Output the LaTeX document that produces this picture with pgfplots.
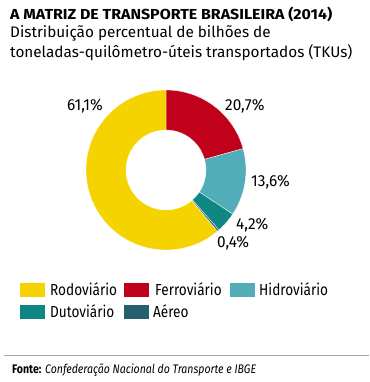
\documentclass[border=0pt]{standalone}
\usepackage{pgfplots}
\pgfplotsset{compat=1.18}
\usepackage{fontspec}
\setmainfont{Fira Sans}[FakeStretch=0.85]
\newfontfamily\titlefont{Fira Sans}[FakeStretch=1.1]
\newfontfamily\subfont{Fira Sans}[FakeStretch=1.0]
\newfontfamily\numfont{Fira Sans}[FakeStretch=0.96]
\definecolor{cRodo}{HTML}{F5D300}
\definecolor{cFerro}{HTML}{C1001B}
\definecolor{cHidro}{HTML}{53ADB9}
\definecolor{cDuto}{HTML}{0E8683}
\definecolor{cAereo}{HTML}{24606E}
% slice: #1 cumulative start (%), #2 value (%), #3 colour
\newcommand\slice[3]{%
  \fill[#3,draw=white,line width=0.3pt]
    (axis cs:{166+80*cos(90-3.6*#1)},{212+80*sin(90-3.6*#1)})
    arc[start angle={90-3.6*#1}, end angle={90-3.6*(#1+#2)}, radius=80bp]
    -- (axis cs:{166+40*cos(90-3.6*(#1+#2))},{212+40*sin(90-3.6*(#1+#2))})
    arc[start angle={90-3.6*(#1+#2)}, end angle={90-3.6*#1}, radius=40bp]
    -- cycle;}
\begin{document}
\begin{tikzpicture}
\begin{axis}[hide axis, scale only axis, width=369bp, height=382bp,
  xmin=0, xmax=369, ymin=0, ymax=382, clip=false]
\fill[white] (axis cs:0,0) rectangle (axis cs:369,382);
% title
\node[anchor=base west, inner sep=0pt, font=\titlefont\fontsize{14.5bp}{18bp}\selectfont\bfseries] at (axis cs:10,362) {A MATRIZ DE TRANSPORTE BRASILEIRA (2014)};
\node[anchor=base west, inner sep=0pt, font=\subfont\fontsize{15.3bp}{18bp}\selectfont] at (axis cs:10,344.7) {Distribuição percentual de bilhões de};
\node[anchor=base west, inner sep=0pt, font=\subfont\fontsize{15.3bp}{18bp}\selectfont] at (axis cs:10,324.5) {toneladas-quilômetro-úteis transportados (TKUs)};
% donut: Ferroviário, Hidroviário, Dutoviário, Aéreo, Rodoviário
\slice{0}{20.7}{cFerro}
\slice{20.7}{13.6}{cHidro}
\slice{34.3}{4.2}{cDuto}
\slice{38.5}{0.4}{cAereo}
\slice{38.9}{61.1}{cRodo}
% labels
\begin{scope}[every node/.style={anchor=base west, inner sep=0pt, font=\numfont\fontsize{16bp}{18bp}\selectfont}]
\node at (axis cs:67,271.5) {61,1\%};
\node at (axis cs:225,271.5) {20,7\%};
\node at (axis cs:251,195.5) {13,6\%};
\node at (axis cs:236,152) {4,2\%};
\node at (axis cs:217,134) {0,4\%};
\end{scope}
% legend
\fill[cRodo]  (axis cs:20,99)  rectangle (axis cs:45,85);
\fill[cFerro] (axis cs:124,99) rectangle (axis cs:149,85);
\fill[cHidro] (axis cs:230,99) rectangle (axis cs:255,85);
\fill[cDuto]  (axis cs:20,77)  rectangle (axis cs:45,63);
\fill[cAereo] (axis cs:124,77) rectangle (axis cs:149,63);
\begin{scope}[every node/.style={anchor=base west, inner sep=0pt, font=\fontsize{16bp}{18bp}\selectfont}]
\node at (axis cs:50,86) {Rodoviário};
\node at (axis cs:155,86) {Ferroviário};
\node at (axis cs:259,86) {Hidroviário};
\node at (axis cs:50,64) {Dutoviário};
\node at (axis cs:153,64) {Aéreo};
\end{scope}
% footer
\draw[gray!70, line width=0.6pt] (axis cs:4,26.3) -- (axis cs:369,26.3);
\node[anchor=base west, inner sep=0pt, font=\fontsize{12.4bp}{15bp}\selectfont] at (axis cs:12,9) {\textbf{Fonte:} \textit{Confederação Nacional do Transporte e IBGE}};
\end{axis}
\end{tikzpicture}
\end{document}
